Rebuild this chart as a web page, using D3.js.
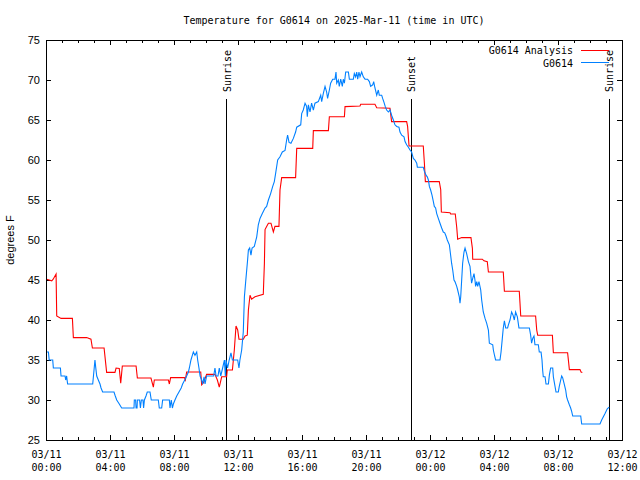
<!DOCTYPE html>
<html><head><meta charset="utf-8">
<script src="https://cdn.jsdelivr.net/npm/d3@7/dist/d3.min.js"></script>
<style>body{margin:0;background:#fff}svg{display:block}</style>
</head><body>
<svg id="chart" width="640" height="480"></svg>
<script>
// ---- data (hours since 03/11 00:00 UTC, degrees F) ----
const chartTitle = "Temperature for G0614 on 2025-Mar-11 (time in UTC)";
const yLabel = "degrees F";
const seriesNames = ["G0614 Analysis", "G0614"];

const analysisHours = [
 0.04,0.36,0.45,0.63,0.67,0.94,1.65,1.71,2.54,2.81,
 2.9,3.63,3.79,4.31,4.38,4.58,4.67,4.77,5.63,5.71,
 6.56,6.71,6.77,7.65,7.71,7.79,8.65,8.71,8.79,9.67,
 9.73,9.85,10.04,10.56,10.71,10.83,10.98,11.29,11.33,11.65,
 11.71,11.77,11.875,11.98,12.06,12.33,12.44,12.58,12.65,12.75,
 12.85,13.06,13.58,13.65,13.69,13.79,13.9,14.06,14.21,14.31,
 14.56,14.625,14.73,15.6,15.67,16.67,16.71,17.65,17.71,18.65,
 18.69,19.625,19.67,20.56,20.67,21.5,21.6,22.54,22.6,22.69,
 23.58,23.65,23.71,24.58,24.67,24.71,25.25,25.29,25.58,25.67,
 25.73,25.98,26.56,26.65,26.67,27.27,27.375,27.58,27.65,28.58,
 28.65,29.58,29.625,29.67,30.6,30.67,30.73,31.65,31.71,32.6,
 32.67,32.71,33.375,33.44,33.52];
const analysisTemps = [
 45.1,44.9,45.1,45.75,40.5,40.2,40.2,37.8,37.8,37.6,
 36.5,36.5,33.45,33.45,34.0,33.95,32.1,34.25,34.25,32.75,
 32.75,31.6,32.5,32.5,32.0,32.8,32.8,32.5,33.5,33.5,
 31.9,32.2,33.2,33.2,32.5,31.6,32.9,32.9,33.75,33.75,
 35.0,36.25,39.25,38.75,37.6,37.6,38.0,38.1,41.25,43.1,
 42.6,42.9,43.2,47.1,51.3,51.7,52.1,52.1,51.0,51.7,
 51.7,56.25,57.8,57.8,61.45,61.45,63.67,63.67,65.4,65.4,
 66.67,66.75,66.96,66.96,66.54,66.46,64.8,64.8,64.2,61.75,
 61.75,59.6,57.3,57.3,56.3,53.5,53.4,53.25,53.25,51.6,
 50.1,50.3,50.3,48.96,47.6,47.6,47.4,47.3,46.0,46.0,
 43.6,43.6,42.1,40.5,40.5,38.75,38.1,38.1,35.9,35.9,
 34.6,33.8,33.8,33.5,33.45];

const obsHours = [
 0.04,0.15,0.2,0.42,0.46,0.9,0.94,1.19,1.23,1.29,
 1.35,2.92,3.06,3.1,3.17,3.27,3.375,3.44,3.54,4.25,
 4.33,4.42,4.58,4.73,5.5,5.52,5.6,5.63,5.69,5.71,
 5.85,5.9,5.96,6.06,6.1,6.15,6.25,6.33,6.5,6.58,
 7.02,7.08,7.23,7.29,7.71,7.75,7.83,7.9,7.96,8.06,
 8.17,8.31,8.45,8.54,8.67,8.79,8.9,8.96,9.06,9.15,
 9.21,9.31,9.42,9.48,9.56,9.63,9.73,9.79,9.88,9.94,
 10.04,10.48,10.56,10.63,10.75,10.83,10.92,11.04,11.15,11.21,
 11.25,11.35,11.45,11.56,11.65,11.98,12.06,12.12,12.23,12.33,
 12.4,12.48,12.6,12.65,12.73,12.81,12.88,13.02,13.17,13.27,
 13.375,13.52,13.69,13.79,13.9,14.04,14.17,14.27,14.35,14.48,
 14.625,14.77,14.94,15.04,15.1,15.19,15.31,15.46,15.6,15.67,
 15.92,15.98,16.08,16.19,16.29,16.33,16.4,16.5,16.6,16.71,
 16.81,17.02,17.17,17.23,17.33,17.44,17.54,17.6,17.71,17.79,
 17.92,18.06,18.125,18.17,18.27,18.33,18.42,18.52,18.58,18.65,
 18.73,18.9,18.96,19.21,19.27,19.35,19.42,19.48,19.56,19.625,
 19.73,19.83,19.94,20.1,20.21,20.29,20.42,20.48,20.56,20.67,
 20.77,20.83,20.98,21.04,21.125,21.2,21.29,21.4,21.5,21.6,
 21.71,21.81,21.92,22.06,22.125,22.23,22.375,22.44,22.54,22.65,
 22.75,22.85,22.96,23.06,23.17,23.21,23.58,23.65,23.75,23.83,
 23.9,23.96,24.04,24.125,24.21,24.27,24.35,24.42,24.52,24.625,
 24.73,24.83,24.92,25.0,25.08,25.21,25.29,25.35,25.42,25.5,
 25.56,25.67,25.73,25.83,25.875,25.92,25.98,26.04,26.125,26.19,
 26.29,26.4,26.5,26.6,26.67,26.75,26.81,26.85,26.92,26.98,
 27.06,27.17,27.23,27.33,27.44,27.54,27.65,27.71,27.92,27.96,
 28.04,28.1,28.375,28.44,28.52,28.58,28.65,28.73,28.85,28.9,
 29.0,29.1,29.19,29.27,29.35,29.46,29.56,30.21,30.29,30.35,
 30.42,30.5,30.56,30.77,30.83,30.94,31.0,31.04,31.08,31.19,
 31.25,31.4,31.46,31.54,31.67,31.71,31.77,31.875,32.02,32.08,
 32.17,32.23,32.29,32.375,32.48,32.54,32.6,32.71,32.79,32.85,
 32.92,33.42,33.48,34.625,34.73,34.94,35.08,35.2];
const obsTemps = [
 36,36,35,35,34,34,33,33,32.5,33,
 32,32,35,34.2,33,32.5,32,31.5,31,31,
 30.5,30,29.5,29,29,30,30,29,29,30,
 30,29,30,30,29,30,30.5,31,31,30,
 30,29,29,30,30,29,30,29,29.5,30,
 30.5,31,31.5,32,32.5,33,33.5,34,35,35.6,
 36,35.6,36,35,34,33,32.5,32,32.9,32,
 33,33,34,33,33,34,33,34,35,33,
 35,34,35,35.9,35,35,34,35,36.25,38.5,
 42.9,44.8,47.5,48.75,49,48.1,49,49.2,50.4,51.9,
 52.7,53.3,54,54.2,55,55.8,56.7,57.3,58.3,60,
 60.4,61,61.2,62.5,63.1,62.2,62.1,62.7,63.5,64.1,
 64.4,65.8,66.25,67.1,66.7,65.4,66.9,66,67.1,66.25,
 67.1,67.3,68.1,67.3,68.3,69.2,68.5,67.7,68.75,69.6,
 70.1,70.1,71,69.6,70,69.2,70.1,69.2,70.1,69.6,
 71,71,70.1,70.1,70.8,70.4,71,70.1,71,70.4,
 71,70.4,70.1,70.1,69.8,69.2,69.4,69.8,69,68.1,
 68.75,68.1,68.1,67.7,67.2,66.7,66.25,66,66.25,65.6,
 65,64.4,64.2,64.1,63.5,63.1,62.9,62.3,61.9,61.6,
 61.25,61,60.2,60,59.6,59.1,59.1,58.6,58.1,57.9,
 57.5,56.7,56.25,55.6,54.8,54.2,54,53.3,52.7,52.1,
 51.5,51,50.9,50.5,50,49.4,48.1,47.1,46.25,45,
 44.8,44.2,43.75,42.9,42.1,42.9,45,47.1,48.5,49,
 48.3,47.3,46.7,44.6,45.2,45.8,45,44.2,44.8,44.2,
 44.8,43.75,42.5,41,40.2,39.6,38.75,37.1,36.9,36.25,
 35.5,35,35,36,37.7,39,39.9,39,39,39.4,
 40,41,40.6,40,41,40.4,39,39,38.1,37.1,
 37.7,38,36.9,36.9,36,36,35,33.75,32.9,32.9,
 32,32,33.1,34,34,32.9,32.2,31,31,31.7,
 32.5,33,32.8,32.1,31.25,30.4,30,29.4,29,28.6,
 28,28,27,27,27.5,28.3,28.9,29.1];

const sunHours = [11.29, 22.83, 35.2];
const sunLabels = ["Sunrise", "Sunset", "Sunrise"];

const xMajorHours = [0, 4, 8, 12, 16, 20, 24, 28, 32, 36];
const xTickDates = ["03/11","03/11","03/11","03/11","03/11","03/11","03/12","03/12","03/12","03/12"];
const xTickTimes = ["00:00","04:00","08:00","12:00","16:00","20:00","00:00","04:00","08:00","12:00"];
const yTicks = [25, 30, 35, 40, 45, 50, 55, 60, 65, 70, 75];

// ---- drawing ----
const W = 640, H = 480;
const L = 46, R = 622, T = 40, B = 440;
const MONO = "'DejaVu Sans Mono', 'Liberation Mono', monospace";
const SANS = "'Liberation Sans', Arial, sans-serif";
const colors = ["#ff0000", "#0080ff"];

const svg = d3.select("#chart");
svg.append("rect").attr("width", W).attr("height", H).attr("fill", "#fff");

const x = d3.scaleLinear().domain([0, 36]).range([L, R]);
const y = d3.scaleLinear().domain([25, 75]).range([B, T]);

// title
svg.append("text").attr("x", (L + R) / 2).attr("y", 23.5)
  .attr("text-anchor", "middle").attr("font-family", MONO).attr("font-size", 10)
  .text(chartTitle);

// y label
svg.append("text").attr("transform", "translate(13.5,240) rotate(-90)")
  .attr("text-anchor", "middle").attr("font-family", SANS).attr("font-size", 11)
  .text(yLabel);

function styleAxis(g) {
  g.select(".domain").remove();
  g.selectAll("line").attr("stroke", "#000").attr("shape-rendering", "crispEdges");
}

// bottom major ticks with labels
const gxb = svg.append("g").attr("transform", `translate(0,${B})`)
  .call(d3.axisBottom(x).tickValues(xMajorHours).tickSizeInner(-5).tickSizeOuter(0)
    .tickPadding(11).tickFormat((d, i) => xTickDates[i]));
styleAxis(gxb);
gxb.selectAll("text").attr("font-family", MONO).attr("font-size", 10).attr("fill", "#000")
  .each(function(d, i) {
    const t = d3.select(this);
    t.text(null);
    t.append("tspan").attr("x", 0).text(xTickDates[i]);
    t.append("tspan").attr("x", 0).attr("dy", "1.25em").text(xTickTimes[i]);
  });
// bottom minor ticks (hourly)
const gxbm = svg.append("g").attr("transform", `translate(0,${B})`)
  .call(d3.axisBottom(x).tickValues(d3.range(0, 37, 1)).tickSizeInner(-3).tickSizeOuter(0).tickFormat(""));
styleAxis(gxbm);
// top ticks
const gxt = svg.append("g").attr("transform", `translate(0,${T})`)
  .call(d3.axisTop(x).tickValues(xMajorHours).tickSizeInner(-5).tickSizeOuter(0).tickFormat(""));
styleAxis(gxt);
const gxtm = svg.append("g").attr("transform", `translate(0,${T})`)
  .call(d3.axisTop(x).tickValues(d3.range(0, 37, 1)).tickSizeInner(-3).tickSizeOuter(0).tickFormat(""));
styleAxis(gxtm);

// left axis
const gyl = svg.append("g").attr("transform", `translate(${L},0)`)
  .call(d3.axisLeft(y).tickValues(yTicks).tickSizeInner(-5).tickSizeOuter(0).tickPadding(6)
    .tickFormat(d3.format("d")));
styleAxis(gyl);
gyl.selectAll("text").attr("font-family", SANS).attr("font-size", 11).attr("fill", "#000");
// right axis ticks
const gyr = svg.append("g").attr("transform", `translate(${R},0)`)
  .call(d3.axisRight(y).tickValues(yTicks).tickSizeInner(-5).tickSizeOuter(0).tickFormat(""));
styleAxis(gyr);

// clip
svg.append("clipPath").attr("id", "plotclip").append("rect")
  .attr("x", L).attr("y", T).attr("width", R - L).attr("height", B - T);

// sunrise / sunset lines
const sun = svg.append("g");
sun.selectAll("line").data(sunHours).join("line")
  .attr("x1", d => x(d)).attr("x2", d => x(d)).attr("y1", 99).attr("y2", B)
  .attr("stroke", "#000").attr("stroke-width", 1).attr("shape-rendering", "crispEdges");
sun.selectAll("text").data(sunHours).join("text")
  .attr("transform", d => `translate(${x(d)},92) rotate(-90)`)
  .attr("dy", "0.4em").attr("font-family", MONO).attr("font-size", 10)
  .text((d, i) => sunLabels[i]);

// series lines
const plot = svg.append("g").attr("clip-path", "url(#plotclip)");
const seriesHours = [analysisHours, obsHours];
const seriesTemps = [analysisTemps, obsTemps];
seriesHours.forEach((hrs, s) => {
  const line = d3.line().x(i => x(hrs[i])).y(i => y(seriesTemps[s][i]));
  plot.append("path").datum(d3.range(hrs.length)).attr("d", line)
    .attr("fill", "none").attr("stroke", colors[s]).attr("stroke-width", 1.1)
    .attr("stroke-linejoin", "miter");
});

// frame
svg.append("rect").attr("x", L).attr("y", T).attr("width", R - L).attr("height", B - T)
  .attr("fill", "none").attr("stroke", "#000").attr("shape-rendering", "crispEdges");

// legend
const leg = svg.append("g");
seriesNames.forEach((name, i) => {
  const yy = 50 + i * 12.5;
  leg.append("text").attr("x", 573).attr("y", yy + 4).attr("text-anchor", "end")
    .attr("font-family", MONO).attr("font-size", 10).text(name);
  leg.append("line").attr("x1", 581).attr("x2", 609).attr("y1", yy).attr("y2", yy)
    .attr("stroke", colors[i]).attr("stroke-width", 1).attr("shape-rendering", "crispEdges");
});
</script>
</body></html>
